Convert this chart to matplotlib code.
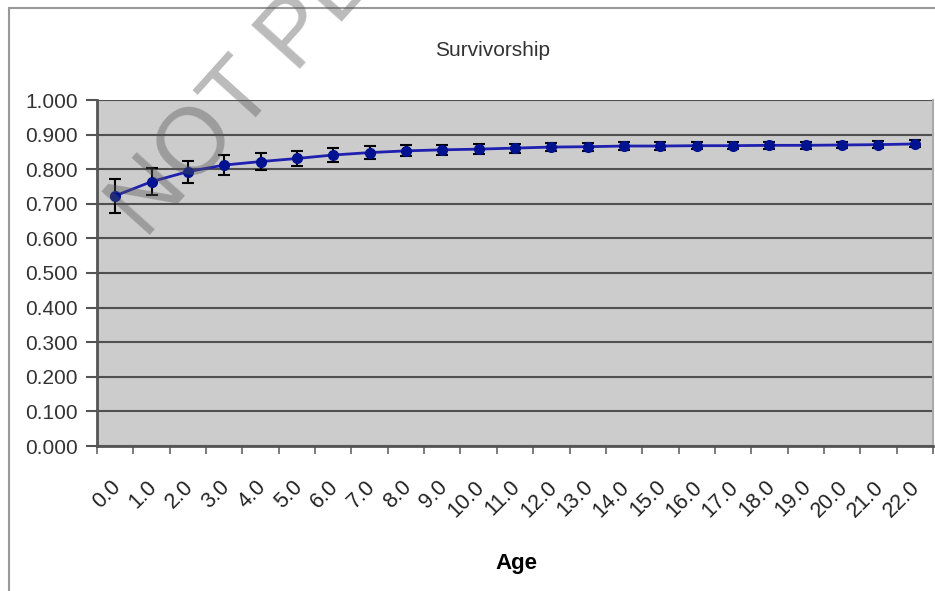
import numpy as np
import matplotlib.pyplot as plt
from matplotlib.patches import Rectangle
from matplotlib.transforms import ScaledTranslation

ages = ["%.1f" % a for a in range(23)]
survivorship = [0.723, 0.764, 0.793, 0.812, 0.822, 0.831, 0.841, 0.848, 0.853, 0.856,
                0.858, 0.861, 0.864, 0.865, 0.867, 0.867, 0.868, 0.868, 0.869, 0.869,
                0.870, 0.871, 0.873]
errors = [0.050, 0.039, 0.032, 0.030, 0.025, 0.022, 0.020, 0.018, 0.016, 0.015,
          0.014, 0.013, 0.012, 0.012, 0.011, 0.011, 0.011, 0.010, 0.010, 0.010,
          0.010, 0.010, 0.010]

plt.rcParams['font.family'] = ['Liberation Sans', 'DejaVu Sans']

fig = plt.figure(figsize=(9.35, 5.91), dpi=100)
ax = fig.add_axes([97/935, 1-446/591, 836/935, 346/591])

x = np.arange(len(ages))
ax.set_facecolor("#cccccc")
ax.set_axisbelow(True)
ax.grid(axis="y", color="#505050", linewidth=1.5)
ax.errorbar(x, survivorship, yerr=errors, color="#1f1fb0", linewidth=2,
            marker="o", markersize=7, markerfacecolor="#001290", markeredgecolor="#001290",
            ecolor="black", elinewidth=1.5, capsize=4, capthick=1.5, zorder=3)

ax.set_xlim(-0.5, 22.5)
ax.set_ylim(0, 1.0)
ax.set_yticks(np.arange(0, 1.01, 0.1))
ax.set_yticklabels(["%.3f" % v for v in np.arange(0, 1.01, 0.1)], fontsize=15, color="#333333")
ax.tick_params(axis="y", direction="out", length=8, width=1.5, color="#555555", pad=6)

ax.set_xticks(x)
ax.set_xticklabels(ages, rotation=45, ha="right", va="top", rotation_mode="anchor",
                   fontsize=15.5, color="#222222")
ax.set_xticks(np.arange(-0.5, 23, 1), minor=True)
ax.tick_params(axis="x", which="major", length=0, pad=22)
ax.tick_params(axis="x", which="minor", direction="out", length=6, width=1.2, color="#666666")
shift = ScaledTranslation(-5/100, 0, fig.dpi_scale_trans)
for lab in ax.get_xticklabels():
    lab.set_transform(lab.get_transform() + shift)

for s in ["left", "bottom"]:
    ax.spines[s].set_color("#555555")
    ax.spines[s].set_linewidth(2)
ax.spines["top"].set_visible(False)
ax.spines["right"].set_color("#aaaaaa")
ax.spines["right"].set_linewidth(1.5)

fig.text(493/935, 1-50/591, "Survivorship", ha="center", va="center", fontsize=15, color="#333333")
fig.text(516/935, 1-563/591, "Age", ha="center", va="center", fontsize=16, fontweight="bold")

# outer chart frame
fig.patches.append(Rectangle((9/935, -0.1), 1.0, 1-8/591+0.1, transform=fig.transFigure,
                             fill=False, edgecolor="#999999", linewidth=1.5))

# watermark
fig.text(145/935, 1-240/591, "NOT PEER REVIEWED", rotation=48, fontsize=68,
         color="#555555", alpha=0.4, ha="left", va="baseline", rotation_mode="anchor", zorder=10)

fig.savefig("out.png", dpi=100)
